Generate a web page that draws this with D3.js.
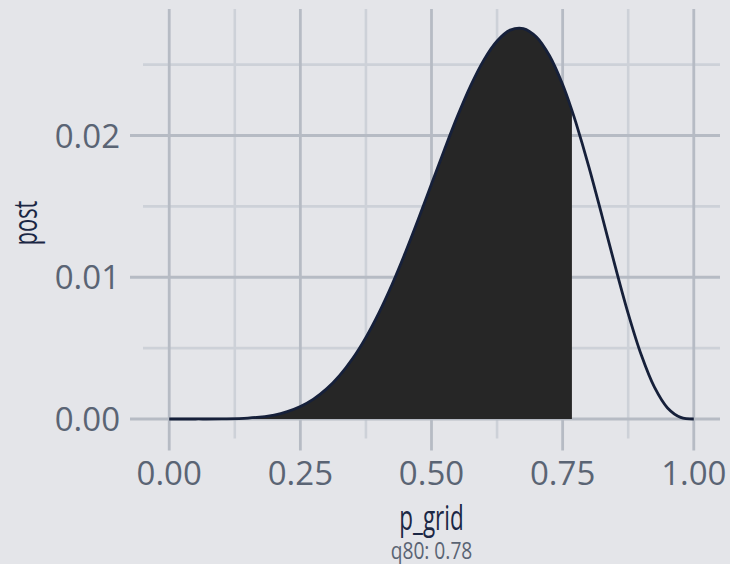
<!DOCTYPE html>
<html>
<head>
<meta charset="utf-8">
<script src="https://cdn.jsdelivr.net/npm/d3@7"></script>
<style>
  html, body { margin: 0; padding: 0; background: #E4E5E9; }
  svg { display: block; }
</style>
</head>
<body>
<svg id="chart" width="730" height="564"></svg>
<script>
// ---- data ----
const pGrid = [0, 0.05, 0.1, 0.15, 0.2, 0.225, 0.25, 0.275, 0.3, 0.325, 0.35, 0.375, 0.4, 0.425, 0.45, 0.475,
               0.5, 0.525, 0.55, 0.575, 0.6, 0.625, 0.65, 0.675, 0.7, 0.725, 0.75, 0.7677, 0.775, 0.8,
               0.825, 0.85, 0.875, 0.9, 0.925, 0.95, 0.975, 1];
const post = [0, 0.0000001, 0.0000062, 0.0000593, 0.000278, 0.000513, 0.000874, 0.001399, 0.002121, 0.003075,
              0.004283, 0.005761, 0.007507, 0.009506, 0.011724, 0.014102, 0.016572, 0.019040, 0.021402, 0.023540,
              0.025336, 0.026668, 0.027437, 0.027549, 0.026952, 0.025626, 0.023596, 0.021775, 0.020942, 0.017794,
              0.014338, 0.010800, 0.007437, 0.004509, 0.002242, 0.000780, 0.000114, 0];
const shadeUpTo = 0.7677;          // shaded region: p_grid below the 80% quantile cut
const xTicks = [0, 0.25, 0.5, 0.75, 1];
const xTickLabels = ["0.00", "0.25", "0.50", "0.75", "1.00"];
const xMinor = [0.125, 0.375, 0.625, 0.875];
const yTicks = [0, 0.01, 0.02];
const yTickLabels = ["0.00", "0.01", "0.02"];
const yMinor = [0.005, 0.015, 0.025];
const xTitle = "p_grid";
const yTitle = "post";
const caption = "q80: 0.78";

// ---- layout ----
const svg = d3.select("#chart");
const W = 730, H = 564;
const panel = { left: 143, right: 720, top: 9, bottom: 438.5 };
const bg = "#E4E5E9", major = "#B6BBC4", minor = "#CDD1D8";

svg.append("rect").attr("width", W).attr("height", H).attr("fill", bg);

const data = pGrid.map((p, i) => ({ p, v: post[i] }));
const yMax = d3.max(post);
const x = d3.scaleLinear().domain([-0.05, 1.05]).range([panel.left, panel.right]);
const y = d3.scaleLinear().domain([-0.05 * yMax, 1.05 * yMax]).range([panel.bottom, panel.top]);

const g = svg.append("g");

// minor grid
g.selectAll("line.xminor").data(xMinor).join("line")
  .attr("x1", d => x(d)).attr("x2", d => x(d))
  .attr("y1", panel.top).attr("y2", panel.bottom)
  .attr("stroke", minor).attr("stroke-width", 2.6);
g.selectAll("line.yminor").data(yMinor).join("line")
  .attr("x1", panel.left).attr("x2", panel.right)
  .attr("y1", d => y(d)).attr("y2", d => y(d))
  .attr("stroke", minor).attr("stroke-width", 2.6);

// major grid (incl. ticks extending outside the panel)
g.selectAll("line.ymajor").data(yTicks).join("line")
  .attr("x1", panel.left - 13).attr("x2", panel.right)
  .attr("y1", d => y(d)).attr("y2", d => y(d))
  .attr("stroke", major).attr("stroke-width", 2.8);
g.selectAll("line.xmajor").data(xTicks).join("line")
  .attr("x1", d => x(d)).attr("x2", d => x(d))
  .attr("y1", panel.top).attr("y2", panel.bottom + 12)
  .attr("stroke", major).attr("stroke-width", 2.8);

// shaded area
const curve = d3.curveCatmullRom.alpha(0.5);
const shade = data.filter(d => d.p <= shadeUpTo + 1e-9);
const area = d3.area().x(d => x(d.p)).y0(y(0)).y1(d => y(d.v)).curve(curve);
g.append("path").datum(shade).attr("d", area).attr("fill", "#262626");

// line
const line = d3.line().x(d => x(d.p)).y(d => y(d.v)).curve(curve);
g.append("path").datum(data).attr("d", line)
  .attr("fill", "none").attr("stroke", "#16203A").attr("stroke-width", 2.8)
  .attr("stroke-linejoin", "round");

// tick labels
const tickFont = "'Open Sans', 'Noto Sans', sans-serif";
const tickColor = "#5A6474";
g.selectAll("text.xt").data(xTicks).join("text")
  .attr("x", d => x(d)).attr("y", 485)
  .attr("text-anchor", "middle")
  .attr("font-family", tickFont).attr("font-size", 33).attr("fill", tickColor)
  .text((d, i) => xTickLabels[i]);
g.selectAll("text.yt").data(yTicks).join("text")
  .attr("x", 120).attr("y", d => y(d) + 12)
  .attr("text-anchor", "end")
  .attr("font-family", tickFont).attr("font-size", 33).attr("fill", tickColor)
  .text((d, i) => yTickLabels[i]);

// axis titles (condensed look: horizontally compressed Open Sans)
const titleFont = "'Open Sans', 'Noto Sans', sans-serif";
svg.append("text")
  .attr("transform", `translate(${x(0.5)}, 530) scale(0.66, 1)`)
  .attr("text-anchor", "middle")
  .attr("font-family", titleFont).attr("font-size", 34).attr("fill", "#1B2744")
  .text(xTitle);
svg.append("text")
  .attr("transform", `translate(37, 223) rotate(-90) scale(0.66, 1)`)
  .attr("text-anchor", "middle")
  .attr("font-family", titleFont).attr("font-size", 33).attr("fill", "#1B2744")
  .text(yTitle);
svg.append("text")
  .attr("transform", `translate(${x(0.5)}, 559) scale(0.8, 1)`)
  .attr("text-anchor", "middle")
  .attr("font-family", titleFont).attr("font-size", 24).attr("fill", "#5A6474")
  .text(caption);
</script>
</body>
</html>
